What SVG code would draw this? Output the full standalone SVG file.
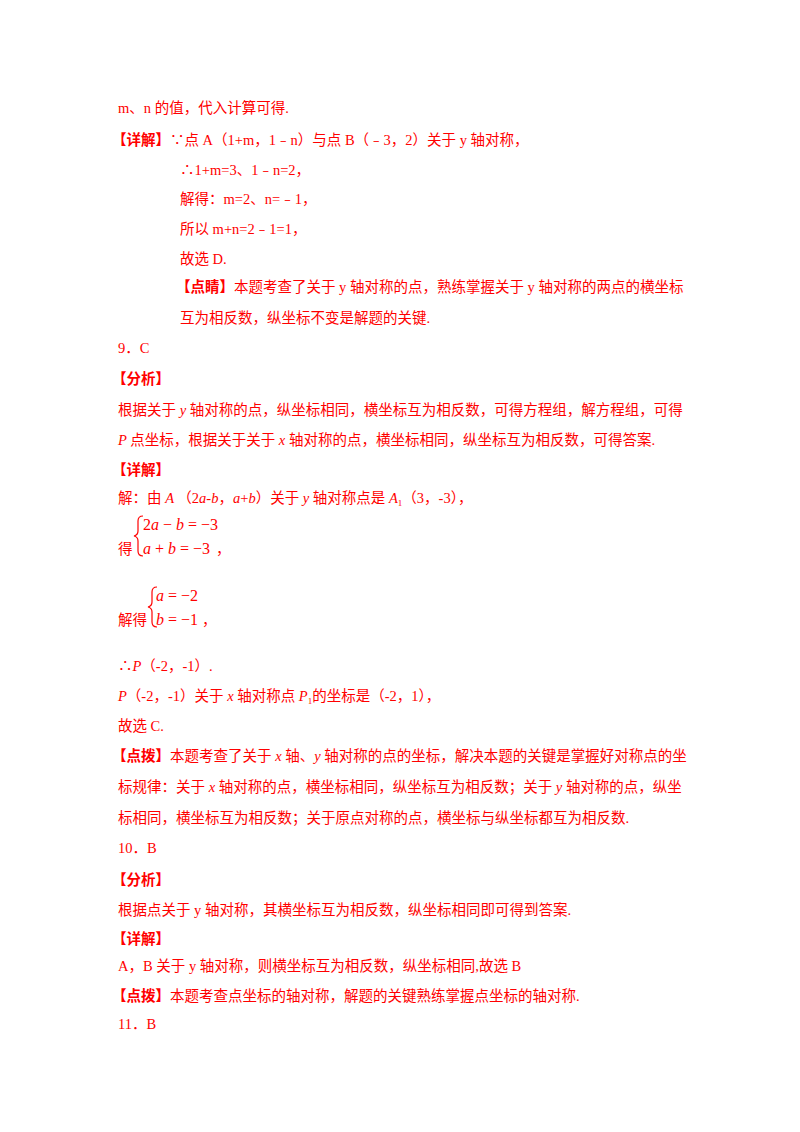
<svg xmlns="http://www.w3.org/2000/svg" width="800" height="1132" viewBox="0 0 800 1132">
<style>
text{font-family:"Liberation Serif","Noto Sans CJK SC",serif;font-size:14.5px;fill:#ff0000}
.b{font-weight:bold}
.i{font-style:italic}
.m{font-size:16px}
</style>
<rect width="800" height="1132" fill="#fff"/>
<g id="text">
<text x="118" y="113">m、n 的值，代入计算可得.</text>
<text x="112" y="145"><tspan class="b">【详解】</tspan>∵点 A（1+m，1﹣n）与点 B（﹣3，2）关于 y 轴对称，</text>
<text x="180" y="175">∴1+m=3、1﹣n=2，</text>
<text x="180" y="204">解得：m=2、n=﹣1，</text>
<text x="180" y="234">所以 m+n=2﹣1=1，</text>
<text x="180" y="264">故选 D.</text>
<text x="176" y="292"><tspan class="b">【点睛】</tspan>本题考查了关于 y 轴对称的点，熟练掌握关于 y 轴对称的两点的横坐标</text>
<text x="180" y="323">互为相反数，纵坐标不变是解题的关键.</text>
<text x="118" y="353">9．C</text>
<text x="112" y="384" class="b">【分析】</text>
<text x="118" y="415">根据关于<tspan class="i"> y </tspan>轴对称的点，纵坐标相同，横坐标互为相反数，可得方程组，解方程组，可得</text>
<text x="118" y="445"><tspan class="i">P </tspan>点坐标，根据关于关于<tspan class="i"> x </tspan>轴对称的点，横坐标相同，纵坐标互为相反数，可得答案.</text>
<text x="112" y="475" class="b">【详解】</text>
<text x="118" y="503">解：由<tspan class="i"> A </tspan>（2<tspan class="i">a</tspan>-<tspan class="i">b</tspan>，<tspan class="i">a</tspan>+<tspan class="i">b</tspan>）关于<tspan class="i"> y </tspan>轴对称点是<tspan class="i"> A</tspan><tspan font-size="9" dy="3">1</tspan><tspan dy="-3">（3，-3），</tspan></text>
<text x="118" y="554">得</text>
<path d="M143,516 q-5,0 -5,5 v10 q0,4 -4,5 q4,1 4,5 v10 q0,5 5,5" fill="none" stroke="#ff0000" stroke-width="1.2"/>
<text x="143" y="530" class="m">2<tspan class="i">a</tspan> − <tspan class="i">b</tspan> = −3</text>
<text x="143" y="554" class="m"><tspan class="i">a</tspan> + <tspan class="i">b</tspan> = −3</text>
<text x="216" y="554">，</text>
<text x="118" y="625">解得</text>
<path d="M157,587 q-5,0 -5,5 v10 q0,4 -4,5 q4,1 4,5 v10 q0,5 5,5" fill="none" stroke="#ff0000" stroke-width="1.2"/>
<text x="156" y="601" class="m"><tspan class="i">a</tspan> = −2</text>
<text x="156" y="625" class="m"><tspan class="i">b</tspan> = −1</text>
<text x="202" y="625">，</text>
<text x="118" y="671">∴<tspan class="i">P</tspan>（-2，-1）.</text>
<text x="118" y="701"><tspan class="i">P</tspan>（-2，-1）关于<tspan class="i"> x </tspan>轴对称点<tspan class="i"> P</tspan><tspan font-size="9" dy="3">1</tspan><tspan dy="-3">的坐标是（-2，1），</tspan></text>
<text x="118" y="731">故选 C.</text>
<text x="112" y="761"><tspan class="b">【点拨】</tspan>本题考查了关于<tspan class="i"> x </tspan>轴、<tspan class="i">y </tspan>轴对称的点的坐标，解决本题的关键是掌握好对称点的坐</text>
<text x="118" y="792">标规律：关于<tspan class="i"> x </tspan>轴对称的点，横坐标相同，纵坐标互为相反数；关于<tspan class="i"> y </tspan>轴对称的点，纵坐</text>
<text x="118" y="823">标相同，横坐标互为相反数；关于原点对称的点，横坐标与纵坐标都互为相反数.</text>
<text x="118" y="853">10．B</text>
<text x="112" y="885" class="b">【分析】</text>
<text x="118" y="915">根据点关于 y 轴对称，其横坐标互为相反数，纵坐标相同即可得到答案.</text>
<text x="112" y="944" class="b">【详解】</text>
<text x="118" y="971">A，B 关于 y 轴对称，则横坐标互为相反数，纵坐标相同,故选 B</text>
<text x="112" y="1001"><tspan class="b">【点拨】</tspan>本题考查点坐标的轴对称，解题的关键熟练掌握点坐标的轴对称.</text>
<text x="118" y="1029">11．B</text>
</g>
</svg>
